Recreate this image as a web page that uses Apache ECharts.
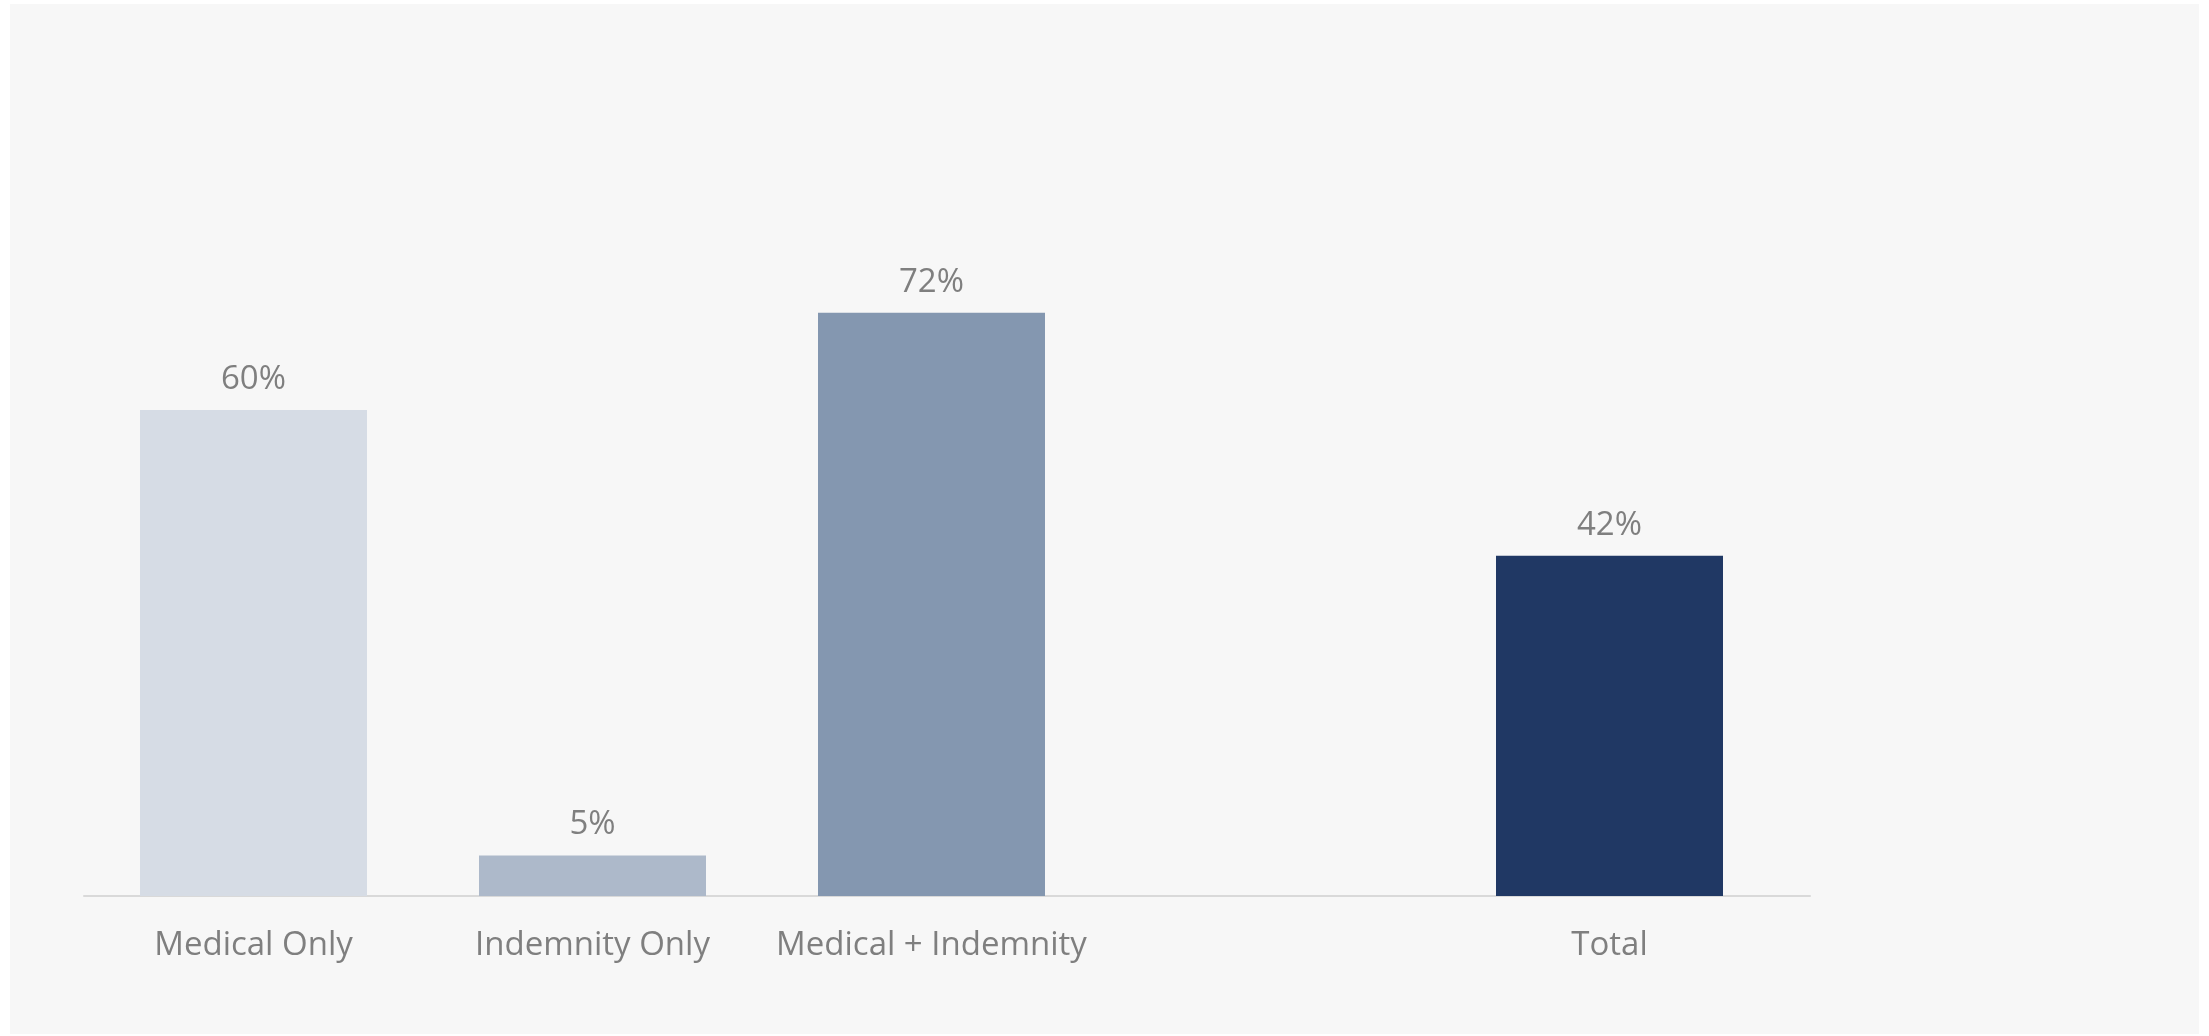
<!DOCTYPE html>
<html>
<head>
<meta charset="utf-8">
<title>Claims share by type</title>
<script src="https://cdn.jsdelivr.net/npm/echarts@6/dist/echarts.min.js"></script>
<style>
  html, body { margin: 0; padding: 0; background: #ffffff; }
  #panel { position: absolute; left: 10px; top: 4px; width: 2189px; height: 1030px; background: #F7F7F7; }
  #chart { position: absolute; left: 0; top: 0; width: 2209px; height: 1036px; }
</style>
</head>
<body>
<div id="panel"></div>
<div id="chart"></div>
<script>
// Claim categories (the empty slot leaves a gap before the total)
const categories = ['Medical Only', 'Indemnity Only', 'Medical + Indemnity', '', 'Total'];
// Share of claims, in percent
const values = [60, 5, 72, null, 42];
// Fill colour for each bar
const barColors = ['#D6DCE5', '#ADB9CA', '#8497B0', '#8497B0', '#203864'];

const textColor = '#7F7F7F';
const fontFamily = '"Open Sans", "Noto Sans", sans-serif';

const chart = echarts.init(document.getElementById('chart'), null, { renderer: 'canvas' });

chart.setOption({
  backgroundColor: 'transparent',
  animation: false,
  grid: [
    { left: 84, width: 1695, top: 248, bottom: 140, containLabel: false },
    { left: 84, width: 1726, top: 248, bottom: 140, containLabel: false }
  ],
  xAxis: [
    {
      type: 'category',
      gridIndex: 0,
      data: categories,
      axisLine: { show: false },
      axisTick: { show: false },
      axisLabel: {
        color: textColor,
        fontFamily: fontFamily,
        fontSize: 33,
        margin: 33,
        interval: 0
      }
    },
    {
      // baseline running the full plot width
      type: 'value',
      gridIndex: 1,
      min: 0,
      max: 1,
      axisLine: { show: true, lineStyle: { color: '#D9D9D9', width: 2 } },
      axisTick: { show: false },
      axisLabel: { show: false },
      splitLine: { show: false }
    }
  ],
  yAxis: [
    {
      type: 'value',
      gridIndex: 0,
      min: 0,
      max: 80,
      show: false,
      splitLine: { show: false }
    },
    {
      type: 'value',
      gridIndex: 1,
      show: false,
      splitLine: { show: false }
    }
  ],
  series: [
    {
      type: 'bar',
      xAxisIndex: 0,
      yAxisIndex: 0,
      barWidth: 227,
      data: values.map((v, i) => ({ value: v, itemStyle: { color: barColors[i] } })),
      label: {
        show: true,
        position: 'top',
        distance: 14,
        formatter: '{c}%',
        color: textColor,
        fontFamily: fontFamily,
        fontSize: 33
      }
    }
  ]
});
</script>
</body>
</html>
